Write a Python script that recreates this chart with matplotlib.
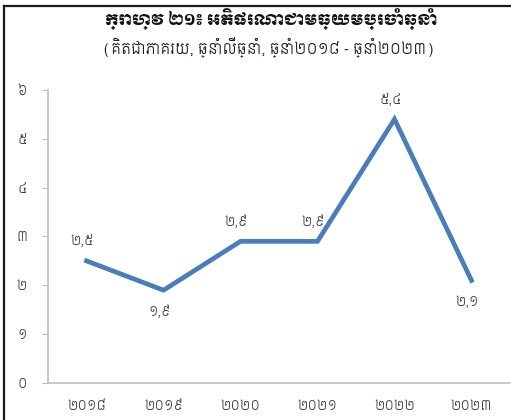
import matplotlib
matplotlib.use('Agg')
import matplotlib.pyplot as plt
from matplotlib import font_manager as fm

years = ['២០១៨', '២០១៩', '២០២០', '២០២១', '២០២២', '២០២៣']
inflation = [2.5, 1.9, 2.9, 2.9, 5.4, 2.1]
point_labels = ['២,៥', '១,៩', '២,៩', '២,៩', '៥,៤', '២,១']
label_above = [True, False, True, True, True, False]
yticks = [0, 1, 2, 3, 4, 5, 6]
ytick_labels = ['០', '១', '២', '៣', '៤', '៥', '៦']
title = 'ក្រាហ្វ ២១៖ អតិផរណាជាមធ្យមប្រចាំឆ្នាំ'
subtitle = '(គិតជាភាគរយ, ឆ្នាំលើឆ្នាំ, ឆ្នាំ២០១៨ - ឆ្នាំ២០២៣)'

installed = set(f.name for f in fm.fontManager.ttflist)
body = [f for f in ['Siemreap', 'Noto Sans Khmer', 'DejaVu Sans'] if f in installed]
head = [f for f in ['Moul', 'Noto Sans Khmer', 'DejaVu Sans'] if f in installed]
plt.rcParams['font.family'] = body

fig = plt.figure(figsize=(5.11, 4.2), dpi=100)
ax = fig.add_axes([0.094, 0.088, 0.904, 0.698])

x = range(len(years))
ax.plot(x, inflation, color='#4a7ebb', lw=3.4, solid_joinstyle='miter')
for i, v in enumerate(inflation):
    off = 9 if label_above[i] else -11
    ax.annotate(point_labels[i], (i, v), xytext=(-3, off), textcoords='offset points',
                ha='center', va='bottom' if label_above[i] else 'top',
                fontsize=9, color='#404040')

ax.set_xlim(-0.5, len(years) - 0.5)
ax.set_ylim(0, 6)
ax.set_xticks(list(x))
ax.set_xticklabels(years)
ax.set_yticks(yticks)
ax.set_yticklabels(ytick_labels)
ax.tick_params(axis='x', length=0, pad=12, labelsize=9, labelcolor='#404040')
ax.tick_params(axis='y', length=4, color='#bfbfbf', pad=11, labelsize=9, labelcolor='#404040')
for s in ['top', 'right']:
    ax.spines[s].set_visible(False)
for s in ['left', 'bottom']:
    ax.spines[s].set_color('#bfbfbf')
    ax.spines[s].set_linewidth(1.2)

fig.text(0.53, 0.955, title, ha='center', va='center', fontsize=11, fontweight='bold',
         family=head, color='#111111')
fig.text(0.525, 0.888, subtitle, ha='center', va='center', fontsize=10.5, color='#222222')

# frame lines on the left and top
fig.add_artist(plt.Line2D([0.0085, 0.0085], [0, 0.985], color='#1a1a1a', lw=1.6))
fig.add_artist(plt.Line2D([0.0085, 1.0], [0.985, 0.985], color='#1a1a1a', lw=1.6))

fig.savefig('out.png')
